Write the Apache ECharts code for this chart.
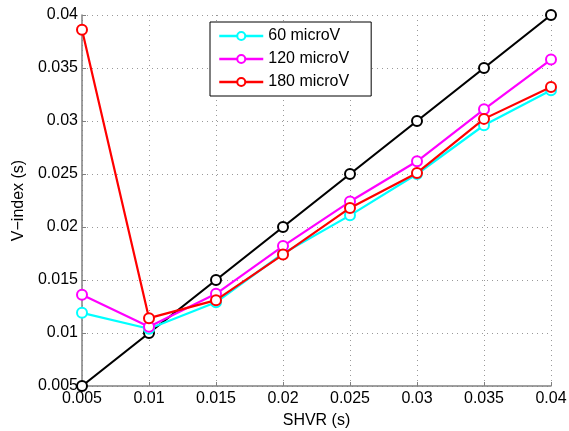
<!DOCTYPE html>
<html><head><meta charset="utf-8">
<script src="https://cdn.jsdelivr.net/npm/echarts@6/dist/echarts.min.js"></script>
<style>html,body{margin:0;padding:0;background:#fff}#c{width:569px;height:431px}</style>
</head><body><div id="c"></div>
<script>
const shvr = [0.005, 0.01, 0.015, 0.02, 0.025, 0.03, 0.035, 0.04];
const v60 = [0.0119, 0.0104, 0.0129, 0.0175, 0.0211, 0.0250, 0.0296, 0.0329];
const v120 = [0.0136, 0.0106, 0.0137, 0.0182, 0.0224, 0.0262, 0.0311, 0.0358];
const v180 = [0.0386, 0.0114, 0.0131, 0.0174, 0.0218, 0.0251, 0.0302, 0.0332];
const identity = [0.005, 0.01, 0.015, 0.02, 0.025, 0.03, 0.035, 0.04];
const names = ['60 microV', '120 microV', '180 microV'];

const font = 'Liberation Sans, Arial, sans-serif';
function pairs(ys){ return shvr.map((x,i)=>[x, ys[i]]); }
function ser(name, ys, color, z){
  return {name, type:'line', data: pairs(ys), symbol:'circle', symbolSize:10,
    itemStyle:{color:'#fff', borderColor:color, borderWidth:2},
    lineStyle:{color, width:2.2}, z, animation:false};
}
const chart = echarts.init(document.getElementById('c'));
chart.setOption({
  animation:false,
  grid:{left:82, right:18, top:15, bottom:45, containLabel:false, outerBoundsMode:'none'},
  xAxis:{type:'value', min:0.005, max:0.04, interval:0.005,
    name:'SHVR (s)', nameLocation:'middle', nameGap:27,
    nameTextStyle:{fontFamily:font, fontSize:16, color:'#000'},
    axisLine:{show:true, onZero:false, lineStyle:{color:'#808080', width:1.5}},
    axisTick:{show:true, inside:true, length:4, lineStyle:{color:'#808080'}},
    axisLabel:{fontFamily:font, fontSize:16, color:'#000', margin:5, formatter:v=>String(+v.toFixed(3))},
    splitLine:{show:true, lineStyle:{color:'#999', type:[1,4], width:1}}},
  yAxis:{type:'value', min:0.005, max:0.04, interval:0.005,
    name:'V\u2212index (s)', nameLocation:'middle', nameGap:53, nameRotate:90,
    nameTextStyle:{fontFamily:font, fontSize:16, color:'#000'},
    axisLine:{show:true, onZero:false, lineStyle:{color:'#808080', width:1.5}},
    axisTick:{show:true, inside:true, length:4, lineStyle:{color:'#808080'}},
    axisLabel:{fontFamily:font, fontSize:16, color:'#000', margin:4, formatter:v=>String(+v.toFixed(3))},
    splitLine:{show:true, lineStyle:{color:'#999', type:[1,4], width:1}}},
  legend:{data:names, left:210, top:22, width:152, orient:'vertical',
    itemWidth:44, itemHeight:10, itemGap:7, padding:[6,22,6,8],
    backgroundColor:'#fff', borderColor:'#000', borderWidth:1, borderRadius:0,
    lineStyle:{width:2.5},
    textStyle:{fontFamily:font, fontSize:16, color:'#000'}},
  series:[
    ser('black', identity, '#000', 2),
    ser(names[0], v60, '#00ffff', 3),
    ser(names[1], v120, '#ff00ff', 4),
    ser(names[2], v180, '#ff0000', 5)
  ]
});
</script></body></html>
